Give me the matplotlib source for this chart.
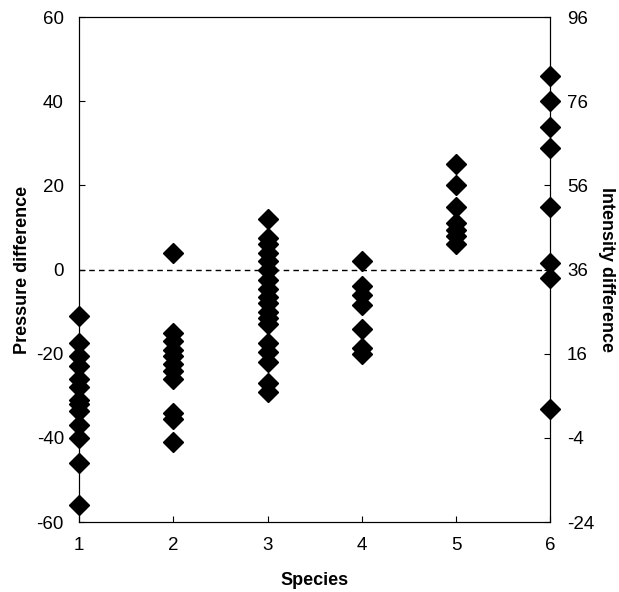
# Pressure / intensity difference by species, twin y axes

import matplotlib.pyplot as plt

plt.rcParams['font.family'] = ['Liberation Sans', 'DejaVu Sans']
plt.rcParams['axes.unicode_minus'] = False

# values (left axis = pressure difference)
sp1 = [-11, -17.5, -20.5, -23, -26, -28, -31, -32, -33.5, -37, -40, -46, -56]
sp2 = [4, -15, -17, -19, -20.5, -22.5, -24, -26, -34, -35.5, -41]
sp3 = [12, 7.5, 6, 4, 2, 0, -2.5, -4.5, -6.5, -8, -10, -11.5, -13, -17.5, -19.5, -22, -27, -29]
sp4 = [2, -4, -6, -8.5, -14, -18.5, -20]
sp5 = [25, 20, 15, 11, 9.5, 8, 6]
sp6 = [46, 40, 34, 29, 15, 1.5, -2, -33]
species_vals = [sp1, sp2, sp3, sp4, sp5, sp6]
species = [1, 2, 3, 4, 5, 6]

left_ticks = [-60, -40, -20, 0, 20, 40, 60]
right_ticks = [-24, -4, 16, 36, 56, 76, 96]

fig = plt.figure(figsize=(6.19, 5.92), dpi=100)
ax = fig.add_axes([0.128, 0.118, 0.761, 0.853])

for s, vals in zip(species, species_vals):
    ax.plot([s] * len(vals), vals, linestyle='none', marker='D', color='black',
            markersize=10.5, clip_on=False, zorder=3)

ax.axhline(0, color='black', linestyle='--', linewidth=1, dashes=(4, 3))

ax.set_xlim(1, 6)
ax.set_ylim(-60, 60)
ax.set_xticks(species)
ax.set_yticks(left_ticks)
ax.tick_params(direction='in', length=4, labelsize=13.5, width=0.8)
ax.tick_params(axis='x', pad=11)
ax.tick_params(axis='y', pad=11)
ax.set_xlabel('Species', fontsize=13, fontweight='bold', labelpad=13)
ax.set_ylabel('Pressure difference', fontsize=13, fontweight='bold', labelpad=4)
for sp in ax.spines.values():
    sp.set_linewidth(0.8)

ax2 = ax.twinx()
ax2.set_ylim(-24, 96)
ax2.set_yticks(right_ticks)
ax2.tick_params(direction='in', length=4, labelsize=13.5, width=0.8, pad=12)
ax2.set_ylabel('Intensity difference', fontsize=13, fontweight='bold',
               rotation=270, labelpad=15)
for sp in ax2.spines.values():
    sp.set_linewidth(0.8)

fig.savefig('out.png', dpi=100)
